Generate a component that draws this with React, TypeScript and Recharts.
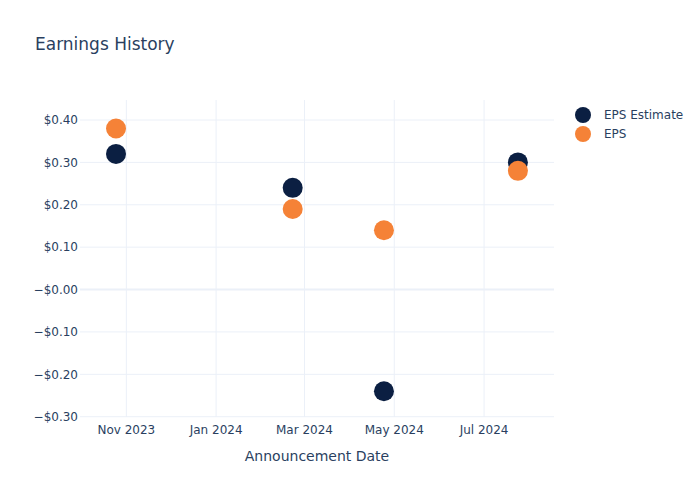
import React from "react";
import { ScatterChart, Scatter, XAxis, YAxis, CartesianGrid, ReferenceLine } from "recharts";

const announcementDates = ["2023-10-25", "2024-02-22", "2024-04-24", "2024-07-24"];
const epsEstimate = [0.32, 0.24, -0.24, 0.3];
const epsActual = [0.38, 0.19, 0.14, 0.28];

const xTickDates = ["2023-11-01", "2024-01-01", "2024-03-01", "2024-05-01", "2024-07-01"];
const xTickLabels = ["Nov 2023", "Jan 2024", "Mar 2024", "May 2024", "Jul 2024"];
const yTicks = [-0.3, -0.2, -0.1, 0, 0.1, 0.2, 0.3, 0.4];
const yTickLabels = ["−$0.30", "−$0.20", "−$0.10", "−$0.00", "$0.10", "$0.20", "$0.30", "$0.40"];

const NAVY = "#0b1f42";
const ORANGE = "#f58237";
const TEXT = "#2a3f5f";
const GRID = "#ebf0f8";
const FONT = "'DejaVu Sans', sans-serif";

const ts = (d: string) => Date.parse(d + "T00:00:00Z");

const estimateData = announcementDates.map((d, i) => ({ x: ts(d), y: epsEstimate[i] }));
const epsData = announcementDates.map((d, i) => ({ x: ts(d), y: epsActual[i] }));
const xTicks = xTickDates.map(ts);
const xDomain = [ts("2023-09-30") + 13 * 3600e3, ts("2024-08-17") + 12 * 3600e3];
const yDomain = [-0.3007, 0.4472];

const dot = (color: string) => (props: any) => (
  <circle cx={props.cx} cy={props.cy} r={10} fill={color} />
);

const legendItems = [
  { name: "EPS Estimate", color: NAVY },
  { name: "EPS", color: ORANGE },
];

export default function App() {
  return (
    <div style={{ position: "absolute", left: 0, top: 0, width: 700, height: 500, background: "#fff", fontFamily: FONT }}>
      <div style={{ position: "absolute", left: 35, top: 34, fontSize: 17, color: TEXT, fontFamily: FONT }}>Earnings History</div>
      <div style={{ position: "absolute", left: 80, width: 474, top: 448, textAlign: "center", fontSize: 14, color: TEXT, fontFamily: FONT }}>Announcement Date</div>
      <div style={{ position: "absolute", left: 575, top: 105, fontFamily: FONT, fontSize: 12, color: TEXT }}>
        {legendItems.map((it) => (
          <div key={it.name} style={{ display: "flex", alignItems: "center", height: 19 }}>
            <span style={{ display: "inline-block", width: 16, height: 16, borderRadius: 8, background: it.color, marginRight: 13 }} />
            <span>{it.name}</span>
          </div>
        ))}
      </div>
      <ScatterChart width={700} height={500} margin={{ top: 100, right: 146, bottom: 53, left: 10 }}>
        <CartesianGrid stroke={GRID} strokeWidth={1} syncWithTicks />
        <XAxis
          type="number"
          dataKey="x"
          domain={xDomain}
          ticks={xTicks}
          tickFormatter={(v: number, i: number) => xTickLabels[i]}
          axisLine={false}
          tickLine={false}
          tickSize={0}
          tickMargin={8}
          height={30}
          allowDataOverflow
          tick={{ fill: TEXT, fontSize: 12, fontFamily: FONT }}
        />
        <YAxis
          type="number"
          dataKey="y"
          domain={yDomain}
          ticks={yTicks}
          tickFormatter={(v: number, i: number) => yTickLabels[i]}
          axisLine={false}
          tickLine={false}
          tickSize={0}
          tickMargin={2}
          width={70}
          allowDataOverflow
          tick={{ fill: TEXT, fontSize: 12, fontFamily: FONT }}
        />
        <ReferenceLine y={0} stroke={GRID} strokeWidth={2} />
        <Scatter name="EPS Estimate" data={estimateData} fill={NAVY} shape={dot(NAVY)} isAnimationActive={false} />
        <Scatter name="EPS" data={epsData} fill={ORANGE} shape={dot(ORANGE)} isAnimationActive={false} />
      </ScatterChart>
    </div>
  );
}
